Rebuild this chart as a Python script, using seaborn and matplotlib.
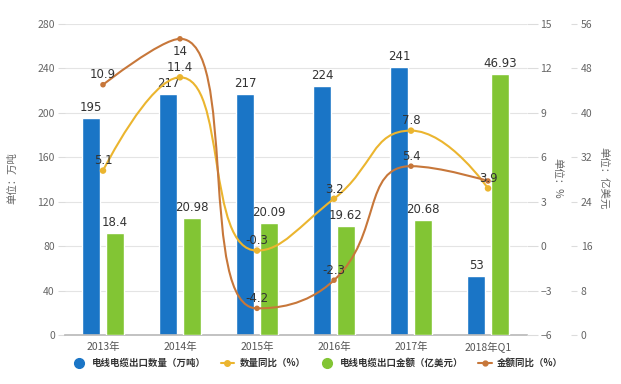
import numpy as np
import pandas as pd
import matplotlib
matplotlib.use('Agg')
import matplotlib.pyplot as plt
from matplotlib.path import Path
from matplotlib.patches import PathPatch
from matplotlib.lines import Line2D
import seaborn as sns

# data
years = ['2013年', '2014年', '2015年', '2016年', '2017年', '2018年Q1']
qty = [195, 217, 217, 224, 241, 53]            # 电线电缆出口数量（万吨）
amount = [18.4, 20.98, 20.09, 19.62, 20.68, 46.93]  # 电线电缆出口金额（亿美元）
qty_yoy = [5.1, 11.4, -0.3, 3.2, 7.8, 3.9]      # 数量同比（%）
amount_yoy = [10.9, 14, -4.2, -2.3, 5.4, 4.4]   # 金额同比（%）

names = ['电线电缆出口数量（万吨）', '数量同比（%）', '电线电缆出口金额（亿美元）', '金额同比（%）']
c_blue, c_yellow, c_green, c_brown = '#1a75c6', '#ebb52f', '#82c534', '#c7773a'

sns.set_style('white')
plt.rcParams['font.family'] = ['Noto Sans CJK SC', 'DejaVu Sans']

df_q = pd.DataFrame({'year': years, 'kind': 'q', 'value': qty})
df_a = pd.DataFrame({'year': years, 'kind': 'a', 'value': amount})
pal = {'q': c_blue, 'a': c_green}

fig = plt.figure(figsize=(6.21, 3.84), dpi=100)
ax = fig.add_axes([64.5 / 621, 1 - 335 / 384, 462 / 621, 311 / 384])
ax3 = ax.twinx()
ax2 = ax.twinx()

sns.barplot(data=df_q, x='year', y='value', hue='kind', hue_order=['q', 'a'], dodge=True,
            palette=pal, saturation=1, width=0.62, gap=0.25, legend=False, ax=ax, order=years)
sns.barplot(data=df_a, x='year', y='value', hue='kind', hue_order=['q', 'a'], dodge=True,
            palette=pal, saturation=1, width=0.62, gap=0.25, legend=False, ax=ax3, order=years)

ax.set_ylim(0, 280)
ax.set_yticks(range(0, 281, 40))
ax2.set_ylim(-6, 15)
ax2.set_yticks(range(-6, 16, 3))
ax3.set_ylim(0, 56)
ax3.set_yticks(range(0, 57, 8))
ax.set_xlim(-0.5, len(years) - 0.5)

for a in (ax, ax2, ax3):
    a.set_xlabel('')
    a.set_ylabel('')
    for s in a.spines.values():
        s.set_visible(False)
ax.spines['bottom'].set_visible(True)
ax.spines['bottom'].set_color('#b8b8b8')
ax.spines['bottom'].set_linewidth(1.2)
ax.yaxis.grid(True, color='#e4e4e4', lw=0.8)
ax.set_axisbelow(True)
ax.tick_params(axis='x', length=0, labelsize=7.5, labelcolor='#555', pad=5)
ax.tick_params(axis='y', length=5, color='#dcdcdc', labelsize=7.5, labelcolor='#666', pad=2)
ax2.tick_params(axis='y', length=8, color='#dcdcdc', labelsize=7.5, labelcolor='#666', pad=2)
ax3.spines['right'].set_position(('outward', 32))
ax3.tick_params(axis='y', length=4, color='#dcdcdc', labelsize=7.5, labelcolor='#666', pad=3)

# bar labels
ax.bar_label(ax.containers[0], labels=['%g' % v for v in qty], padding=3,
             fontsize=8.5, color='#333', family='DejaVu Sans')
ax3.bar_label(ax3.containers[-1], labels=['%g' % v for v in amount], padding=3,
              fontsize=8.5, color='#333', family='DejaVu Sans')


def clamp(v, a, b):
    return np.minimum(np.maximum(v, np.minimum(a, b)), np.maximum(a, b))


def smooth_curve(axis, xs, ys, color, smooth=0.5):
    # bezier smoothing with control points kept inside neighbouring boxes
    pts = axis.transData.transform(np.column_stack([xs, ys]))
    n = len(pts)
    out_cp = [None] * n
    in_cp = [None] * n
    out_cp[0] = pts[0]
    in_cp[n - 1] = pts[n - 1]
    for i in range(1, n - 1):
        p, pv, nx = pts[i], pts[i - 1], pts[i + 1]
        v = nx - pv
        lp = np.linalg.norm(p - pv)
        ln = np.linalg.norm(p - nx)
        r = ln / (ln + lp)
        c0 = p + v * smooth * r
        c0 = clamp(c0, p, nx)
        v = c0 - p
        c1 = p - v * lp / ln
        c1 = clamp(c1, pv, p)
        v = p - c1
        c0 = p + v * ln / lp
        in_cp[i] = c1
        out_cp[i] = c0
    verts = [pts[0]]
    codes = [Path.MOVETO]
    for i in range(n - 1):
        verts += [out_cp[i], in_cp[i + 1], pts[i + 1]]
        codes += [Path.CURVE4] * 3
    verts = axis.transData.inverted().transform(np.array(verts))
    axis.add_patch(PathPatch(Path(verts, codes), fill=False, edgecolor=color, lw=1.5))


xpos = np.arange(len(years))
smooth_curve(ax2, xpos, qty_yoy, c_yellow)
smooth_curve(ax2, xpos, amount_yoy, c_brown)
sns.scatterplot(x=xpos, y=qty_yoy, color=c_yellow, s=22, edgecolor='none', ax=ax2, zorder=5)
sns.scatterplot(x=xpos, y=amount_yoy, color=c_brown, s=16, edgecolor='none', ax=ax2, zorder=5)

# line labels (offset in points, None = hidden)
qty_dy = [7, 7, 7, 7, 7, 7]
amt_dy = [7, -9, 7, 7, 7, None]
for x, v, dy in zip(xpos, qty_yoy, qty_dy):
    ax2.annotate('%g' % v, (x, v), xytext=(0, dy), textcoords='offset points',
                 ha='center', va='center', fontsize=8.5, color='#333', family='DejaVu Sans', zorder=6)
for x, v, dy in zip(xpos, amount_yoy, amt_dy):
    if dy is None:
        continue
    ax2.annotate('%g' % v, (x, v), xytext=(0, dy), textcoords='offset points',
                 ha='center', va='center', fontsize=8.5, color='#333', family='DejaVu Sans', zorder=6)

# axis titles
fig.text(12 / 621, 1 - 178 / 384, '单位：万吨', rotation=90, ha='center', va='center',
         fontsize=7.5, color='#666')
fig.text(557 / 621, 1 - 178 / 384, '单位：%', rotation=270, ha='center', va='center',
         fontsize=7.5, color='#666')
fig.text(603 / 621, 1 - 178 / 384, '单位：亿美元', rotation=270, ha='center', va='center',
         fontsize=7.5, color='#666')

# legend
handles = [
    Line2D([], [], ls='none', marker='o', ms=7, color=c_blue),
    Line2D([], [], color=c_yellow, lw=1.5, marker='o', ms=4),
    Line2D([], [], ls='none', marker='o', ms=7, color=c_green),
    Line2D([], [], color=c_brown, lw=1.5, marker='o', ms=3.5),
]
fig.legend(handles, names, loc='center', bbox_to_anchor=(318 / 621, 1 - 363 / 384), ncol=4,
           frameon=False, prop={'size': 6.8, 'weight': 'bold'}, handlelength=1.4,
           handletextpad=0.6, columnspacing=1.6, labelcolor='#333')

fig.savefig('out.png', dpi=100)
